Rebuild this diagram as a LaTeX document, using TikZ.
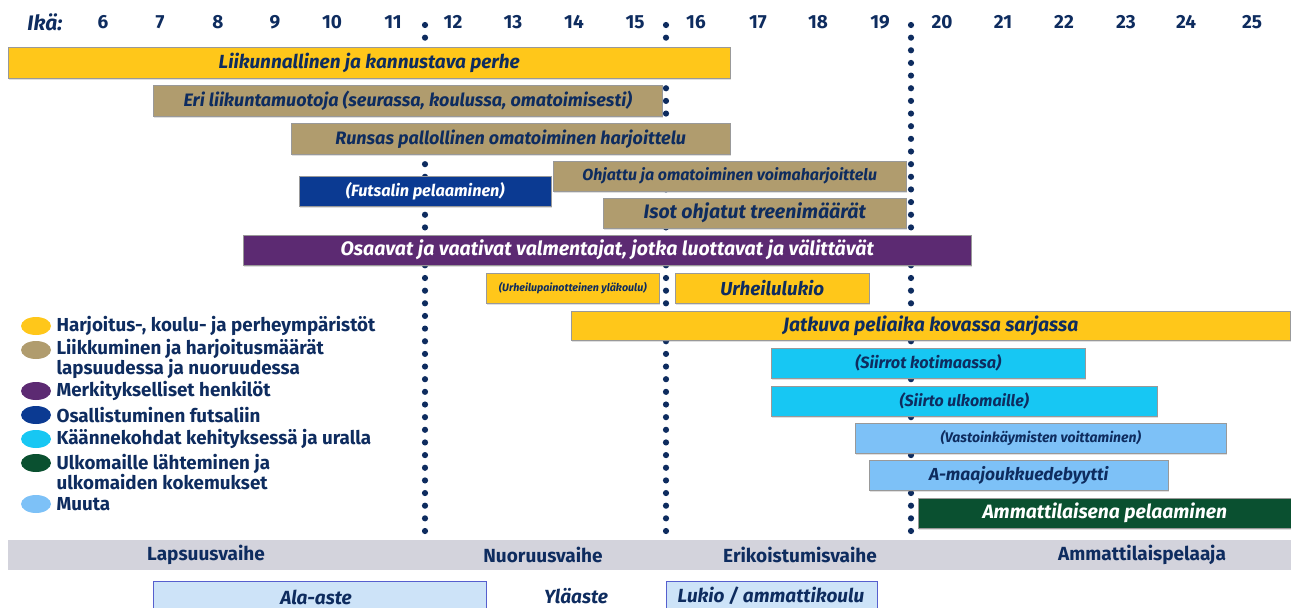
\documentclass[tikz,border=0pt]{standalone}
\usepackage{fontspec}
\setmainfont{Fira Sans}
\usetikzlibrary{shadows,shapes.geometric}

\definecolor{tummasini}{HTML}{0E2C5F}
\definecolor{keltainen}{HTML}{FFC71A}
\definecolor{ruskea}{HTML}{B09C6E}
\definecolor{violetti}{HTML}{5C2A72}
\definecolor{sininen}{HTML}{0B3A92}
\definecolor{turkoosi}{HTML}{17C7F3}
\definecolor{vaaleansin}{HTML}{7DC1F7}
\definecolor{vihrea}{HTML}{0A5030}
\definecolor{harmaa}{HTML}{D3D3DC}
\definecolor{koulu}{HTML}{CDE3F8}

\newcommand{\kirj}[1]{\bfseries\itshape\fontsize{#1}{#1}\selectfont}

\begin{document}
\begin{tikzpicture}[x=1pt,y=-1pt,
    palkki/.style={rectangle, anchor=north west, inner sep=0pt, draw=black!40, line width=0.5pt,
      drop shadow={opacity=0.25, shadow xshift=1pt, shadow yshift=-1.5pt},
      text=tummasini, font=\kirj{19}},
    valkoinen/.style={text=white},
    selite/.style={ellipse, minimum width=30pt, minimum height=18pt, inner sep=0pt},
    selitys/.style={anchor=west, align=left, text=tummasini, font=\bfseries\fontsize{18.8}{18}\selectfont},
    vaihe/.style={text=tummasini, font=\bfseries\fontsize{19}{21}\selectfont},
    ika/.style={text=tummasini, font=\bfseries\fontsize{19}{21}\selectfont}]
  \useasboundingbox (0,0) rectangle (1291,608);

  % ikaakseli
  \node[ika, font=\kirj{21}] (ikaotsikko) at (45,22) {Ikä:};
  \foreach \a/\x in {6/103,7/160,8/218,9/275,10/332,11/393,12/453,13/513,14/574,15/635,
                     16/696,17/758,18/818,19/880,20/942,21/1003,22/1064,23/1126,24/1186,25/1252}
    \node[ika] (ika\a) at (\x,22) {\a};

  % pisteviivat
  \foreach \x in {425,666,911}
    \foreach \i in {0,...,40}
      \fill[tummasini] (\x,25+\i*12.65) circle[radius=3.1pt];

  % palkit
  \node[palkki, fill=keltainen, minimum width=722pt, minimum height=31pt] (perhe) at (8,47) {Liikunnallinen ja kannustava perhe};
  \node[palkki, fill=ruskea, minimum width=509pt, minimum height=31pt, font=\kirj{18}] (liikuntamuodot) at (153,85) {Eri liikuntamuotoja (seurassa, koulussa, omatoimisesti)};
  \node[palkki, fill=ruskea, minimum width=439pt, minimum height=31pt, font=\kirj{18}] (pallollinen) at (291,123) {Runsas pallollinen omatoiminen harjoittelu};
  \node[palkki, fill=ruskea, minimum width=353pt, minimum height=30pt, font=\kirj{16}] (voima) at (553,161) {Ohjattu ja omatoiminen voimaharjoittelu};
  \node[palkki, valkoinen, fill=sininen, minimum width=252pt, minimum height=30pt, font=\kirj{16.3}] (futsal) at (299,176) {(Futsalin pelaaminen)};
  \node[palkki, fill=ruskea, minimum width=303pt, minimum height=30pt, font=\kirj{19.5}] (treeni) at (603,198) {Isot ohjatut treenimäärät};
  \node[palkki, valkoinen, fill=violetti, minimum width=728pt, minimum height=30pt, font=\kirj{19.5}] (valmentajat) at (243,235) {Osaavat ja vaativat valmentajat, jotka luottavat ja välittävät};
  \node[palkki, fill=keltainen, minimum width=173pt, minimum height=30pt, font=\kirj{10.7}] (ylakoulu) at (486,273) {(Urheilupainotteinen yläkoulu)};
  \node[palkki, fill=keltainen, minimum width=194pt, minimum height=30pt, font=\kirj{18.8}] (lukio) at (675,273) {Urheilulukio};
  \node[palkki, fill=keltainen, minimum width=719pt, minimum height=29pt, font=\kirj{19.3}] (peliaika) at (571,311) {Jatkuva peliaika kovassa sarjassa};
  \node[palkki, fill=turkoosi, minimum width=314pt, minimum height=30pt, font=\kirj{16.3}] (kotimaa) at (771,348) {(Siirrot kotimaassa)};
  \node[palkki, fill=turkoosi, minimum width=386pt, minimum height=30pt, font=\kirj{16}] (ulkomaa) at (771,386) {(Siirto ulkomaille)};
  \node[palkki, fill=vaaleansin, minimum width=371pt, minimum height=30pt, font=\kirj{14}] (vastoin) at (855,423) {(Vastoinkäymisten voittaminen)};
  \node[palkki, fill=vaaleansin, minimum width=299pt, minimum height=30pt, font=\kirj{17.4}] (debyytti) at (869,460) {A-maajoukkuedebyytti};
  \node[palkki, valkoinen, fill=vihrea, minimum width=373pt, minimum height=30pt, font=\kirj{19.3}] (ammatti) at (918,498) {Ammattilaisena pelaaminen};

  % selitteet
  \node[selite, fill=keltainen] (s1) at (36,326) {};
  \node[selite, fill=ruskea] (s2) at (36,350) {};
  \node[selite, fill=violetti] (s3) at (36,391) {};
  \node[selite, fill=sininen] (s4) at (36,415) {};
  \node[selite, fill=turkoosi] (s5) at (36,439) {};
  \node[selite, fill=vihrea] (s6) at (36,463) {};
  \node[selite, fill=vaaleansin] (s7) at (36,504) {};
  \node[selitys] (t1) at (53,326) {Harjoitus-, koulu- ja perheympäristöt};
  \node[selitys] (t2) at (53,359) {Liikkuminen ja harjoitusmäärät\\lapsuudessa ja nuoruudessa};
  \node[selitys] (t3) at (53,391) {Merkitykselliset henkilöt};
  \node[selitys] (t4) at (53,415) {Osallistuminen futsaliin};
  \node[selitys] (t5) at (53,439) {Käännekohdat kehityksessä ja uralla};
  \node[selitys] (t6) at (53,472) {Ulkomaille lähteminen ja\\ulkomaiden kokemukset};
  \node[selitys] (t7) at (53,504) {Muuta};

  % vaiheet
  \fill[harmaa] (8,540) rectangle (1291,570);
  \node[vaihe] (lapsuus) at (206,555) {Lapsuusvaihe};
  \node[vaihe] (nuoruus) at (543,555) {Nuoruusvaihe};
  \node[vaihe] (erikoistuminen) at (800,555) {Erikoistumisvaihe};
  \node[vaihe] (ammattilainen) at (1142,555) {Ammattilaispelaaja};

  % koulut
  \draw[fill=koulu, draw=black!30!koulu!60!blue, line width=0.8pt] (153,581) rectangle (486,612);
  \draw[fill=koulu, draw=black!30!koulu!60!blue, line width=0.8pt] (666,581) rectangle (877,612);
  \node[vaihe, font=\kirj{19}] (alaaste) at (316,597) {Ala-aste};
  \node[vaihe, font=\kirj{19}] (ylaaste) at (576,596) {Yläaste};
  \node[vaihe, font=\kirj{19}] (lukioamm) at (771,596) {Lukio / ammattikoulu};
\end{tikzpicture}
\end{document}
